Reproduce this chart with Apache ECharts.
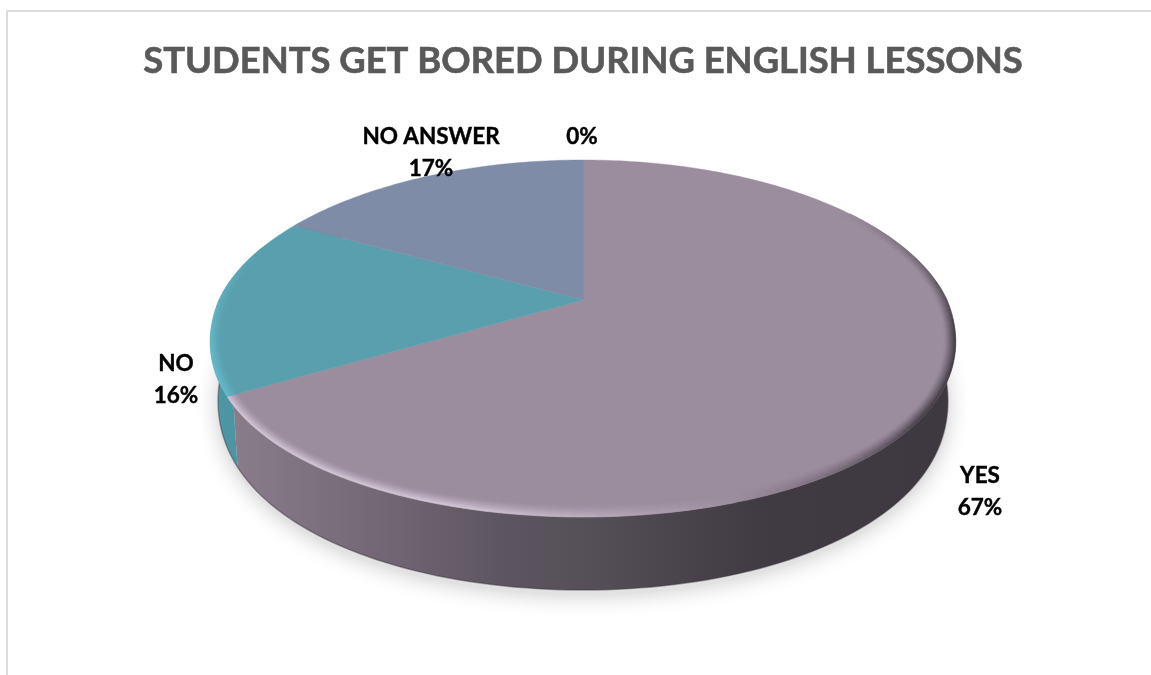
<!DOCTYPE html>
<html>
<head>
<meta charset="utf-8">
<title>Students get bored during English lessons</title>
<script src="https://cdn.jsdelivr.net/npm/echarts@6/dist/echarts.min.js"></script>
<style>html,body{margin:0;padding:0;background:#fff}#chart{width:1151px;height:675px}</style>
</head>
<body>
<div id="chart"></div>
<script>
const chartTitle = 'STUDENTS GET BORED DURING ENGLISH LESSONS';
const categories = ['YES', 'NO', 'NO ANSWER', ''];
const percentages = [67, 16, 17, 0];

// Surface tints and side-wall shading for each slice
const topColors = ['#9b8c9e', '#5a9fae', '#7e8ca8', '#9b8c9e'];
const glowColors = ['#d6c9da', '#66bccd', '#8f9db9', '#d6c9da'];
const wallStops = [
  [[0, '#8a7d8b'], [0.234, '#6f6471'], [0.373, '#5d5660'], [0.512, '#544e57'], [0.65, '#47414a'], [0.75, '#403a43'], [1, '#3e3840']],
  [[0, '#4f97a5'], [1, '#4a8a97']],
  [[0, '#5f6d85'], [1, '#5f6d85']],
  [[0, '#5f6d85'], [1, '#5f6d85']]
];
const labelAnchors = [[980, 492], [176, 380], [431, 153], [582, 137]];

// Projection of the unit disc onto the page: a tilted disc seen in perspective
const apexX = 583, apexY = 300, spanX = 364, spanY = 170.2, tilt = 0.2157;
const narrowing = 0.985, edgeSoft = 11;
const project = (u, v) => {
  const w = 1 - tilt * v;
  const sag = v > 0 ? 20 * v * (1 - v) : 0;
  return [apexX + spanX * u / w, apexY + spanY * v / w + sag];
};
const rim = (deg, r) => {
  const a = deg * Math.PI / 180;
  return project(r * Math.sin(a), -r * Math.cos(a));
};
const lowerRim = deg => {
  const a = deg * Math.PI / 180, v = -Math.cos(a);
  const p = rim(deg, 1);
  const inset = narrowing - 0.03 * Math.max(0, v);
  return [apexX + (p[0] - apexX) * inset, p[1] + 60 + 30 * v - 17 * v * v];
};

const total = percentages.reduce((s, n) => s + n, 0);
const sliceSpan = i => {
  let before = 0;
  for (let k = 0; k < i; k++) before += percentages[k];
  return [before / total * 360, (before + percentages[i]) / total * 360];
};
const sweep = (from, to, step) => {
  const out = [];
  for (let d = from; d < to; d += step) out.push(d);
  out.push(to);
  return out;
};
const mix = (a, b, t) => {
  const p = c => [1, 3, 5].map(i => parseInt(c.substr(i, 2), 16));
  const x = p(a), y = p(b);
  return 'rgb(' + x.map((n, i) => Math.round(n + (y[i] - n) * t)).join(',') + ')';
};
const ramp = (x, a, b) => Math.max(0, Math.min(1, (x - a) / (b - a)));
const glowAt = d => ramp(d, 160, 195) * (1 - ramp(d, 255, 290));
const shadeAt = d => ramp(d, 55, 100) * (1 - ramp(d, 125, 160));

// Soft ground shadow under the disc
function renderGround() {
  const pts = sweep(0, 360, 3).map(d => {
    const p = lowerRim(d);
    return [p[0], p[1] + 5];
  });
  return {
    type: 'polygon', shape: { points: pts },
    style: { fill: '#e2e2e2', shadowBlur: 22, shadowColor: 'rgba(0,0,0,0.22)' }
  };
}

// Outer wall of one slice
function renderWall(params, api) {
  const i = params.dataIndex;
  if (!api.value(0)) return { type: 'group', children: [] };
  const [from, to] = sliceSpan(i);
  const degs = sweep(from, to, 1.5).filter(d => Math.cos(d * Math.PI / 180) < 0.8);
  if (!degs.length) return { type: 'group', children: [] };
  const upper = degs.map(d => rim(d, 0.985));
  const lower = degs.map(lowerRim);
  const xs = upper.concat(lower).map(p => p[0]);
  const x0 = Math.min(...xs), x1 = Math.max(...xs);
  const fill = new echarts.graphic.LinearGradient(x0, 0, x1, 0,
    wallStops[i].map(s => ({ offset: s[0], color: s[1] })), true);
  return {
    type: 'group',
    children: [
      { type: 'polygon', shape: { points: upper.concat(lower.slice().reverse()) }, style: { fill } },
      { type: 'polyline', shape: { points: lower }, style: { fill: null, stroke: 'rgba(58,52,62,0.45)', lineWidth: 1.5 } }
    ]
  };
}

// Top face of one slice, with its bevelled outer edge
function renderTop(params, api) {
  const i = params.dataIndex;
  if (!api.value(0)) return { type: 'group', children: [] };
  const [from, to] = sliceSpan(i);
  const degs = sweep(from, to, 1);
  const face = [[apexX, apexY]].concat(degs.map(d => rim(d, 1)));
  const children = [{
    type: 'polygon', shape: { points: face },
    style: { fill: topColors[i], stroke: topColors[i], lineWidth: 0.4 }
  }];
  const bands = 6;
  const radial = d => {
    const p = rim(d, 1);
    return edgeSoft / Math.hypot(p[0] - apexX, p[1] - apexY);
  };
  const arcs = sweep(from, to, 1.5);
  for (let a = 0; a < arcs.length - 1; a++) {
    const d0 = arcs[a], d1 = arcs[a + 1], mid = (d0 + d1) / 2;
    const glow = glowAt(mid), shade = shadeAt(mid);
    if (glow < 0.02 && shade < 0.02) continue;
    for (let b = 0; b < bands; b++) {
      const t0 = b / bands, t1 = (b + 1) / bands, t = (t0 + t1) / 2;
      const r0 = 1 - radial(d0) * (1 - t0), r1 = 1 - radial(d0) * (1 - t1);
      const r2 = 1 - radial(d1) * (1 - t1), r3 = 1 - radial(d1) * (1 - t0);
      const color = glow >= shade
        ? mix(topColors[i], glowColors[i], glow * Math.pow(t, 1.4))
        : mix(topColors[i], '#3e3840', shade * Math.pow(t, 1.2));
      children.push({
        type: 'polygon',
        shape: { points: [rim(d0, r0), rim(d0, r1), rim(d1, r2), rim(d1, r3)] },
        style: { fill: color, stroke: color, lineWidth: 0.5 }
      });
    }
  }
  return { type: 'group', children };
}

// Category name above its percentage
function renderLabel(params, api) {
  const i = params.dataIndex;
  const name = categories[i];
  return {
    type: 'text',
    style: {
      text: (name ? name + '\n' : '') + api.value(0) + '%',
      x: labelAnchors[i][0], y: labelAnchors[i][1],
      align: 'center', verticalAlign: 'middle',
      font: 'bold 22.5px Lato', lineHeight: 32, fill: '#000000',
      stroke: '#000000', lineWidth: 0.4
    }
  };
}

const layer = (name, renderItem, z) => ({
  type: 'custom', name, coordinateSystem: 'none', renderItem, z,
  silent: true, animation: false, data: percentages.map(n => [n])
});

const chart = echarts.init(document.getElementById('chart'), null, { renderer: 'canvas' });
chart.setOption({
  animation: false,
  backgroundColor: '#ffffff',
  title: {
    text: chartTitle, left: 578, top: 38, textAlign: 'center',
    textStyle: { fontFamily: 'Lato', fontWeight: 'bold', fontSize: 36.4, color: '#595959', textBorderColor: '#595959', textBorderWidth: 0.6 }
  },
  graphic: [{
    type: 'rect', shape: { x: 7, y: 11, width: 1300, height: 800 },
    style: { fill: null, stroke: '#dcdcdc', lineWidth: 2 }, silent: true
  }],
  series: [
    { type: 'custom', name: 'ground', coordinateSystem: 'none', renderItem: renderGround, z: 1, silent: true, animation: false, data: [[total]] },
    layer('walls', renderWall, 2),
    layer('tops', renderTop, 3),
    layer('labels', renderLabel, 4)
  ]
});
</script>
</body>
</html>
